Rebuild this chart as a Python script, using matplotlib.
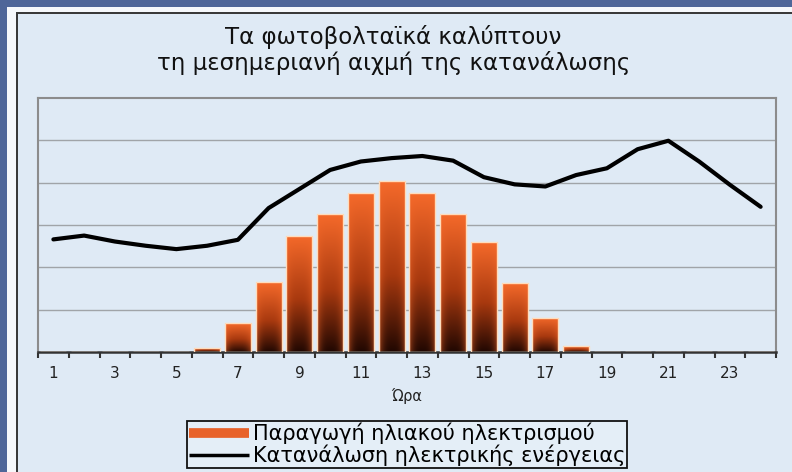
import numpy as np
import matplotlib
matplotlib.use("Agg")
import matplotlib.pyplot as plt
from matplotlib.patches import Rectangle
from matplotlib.lines import Line2D
from matplotlib.colors import to_rgb

plt.rcParams['font.family'] = ['DejaVu Sans']

# ---- data ----
hours = list(range(1, 25))
solar = [0, 0, 0, 0, 0, 0.10, 0.68, 1.65, 2.75, 3.25, 3.75, 4.03,
         3.75, 3.25, 2.59, 1.62, 0.81, 0.13, 0, 0, 0, 0, 0, 0]
consumption = [2.66, 2.75, 2.61, 2.51, 2.43, 2.51, 2.65, 3.40, 3.85, 4.30,
               4.50, 4.58, 4.63, 4.52, 4.13, 3.96, 3.91, 4.18, 4.34, 4.79,
               4.99, 4.50, 3.95, 3.43]
tick_labels = [str(h) for h in hours[::2]]
title = "Τα φωτοβολταϊκά καλύπτουν\nτη μεσημεριανή αιχμή της κατανάλωσης"
xlabel = "Ώρα"
legend_labels = ["Παραγωγή ηλιακού ηλεκτρισμού", "Κατανάλωση ηλεκτρικής ενέργειας"]

W, H = 792, 472
fig = plt.figure(figsize=(W / 100, H / 100), dpi=100)
fig.patch.set_facecolor('#dfeaf5')

def px_rect(x0, y0, x1, y1, color):
    # pixel coords from top-left
    fig.patches.append(Rectangle((x0 / W, 1 - y1 / H), (x1 - x0) / W, (y1 - y0) / H,
                                 transform=fig.transFigure, facecolor=color,
                                 edgecolor='none', zorder=0))

blue = '#4f6699'
px_rect(0, 0, W, 7, blue)
px_rect(0, 0, 7, H, blue)
px_rect(7, 7, W, 12, '#f6f8fb')
px_rect(7, 7, 16, H, '#f6f8fb')
px_rect(16, 12, W, 14, '#3a3a3a')
px_rect(16, 12, 18, H, '#3a3a3a')

ax = fig.add_axes([38 / W, 1 - 352 / H, (776 - 38) / W, (352 - 98) / H])
ax.set_facecolor('none')

x = np.arange(len(hours))
bw = 0.85
bars = ax.bar(x, solar, width=bw, facecolor='none', edgecolor='#ffdcbc',
              linewidth=1.0, zorder=3)

top = np.array(to_rgb('#f4692a'))
mid = np.array(to_rgb('#a8390f'))
bot = np.array(to_rgb('#220802'))
ny, nx = 64, 24
t = np.linspace(0, 1, ny)[:, None]  # 0 bottom .. 1 top
u = np.linspace(0, 1, nx)[None, :]
base = np.where(t[..., None] > 0.45,
                mid + (top - mid) * ((t[..., None] - 0.45) / 0.55),
                bot + (mid - bot) * (t[..., None] / 0.45))
base = np.broadcast_to(base, (ny, nx, 3)).copy()
w = (np.abs(u - 0.5) * 2) ** 3 * 0.5
grad = base * (1 - w[..., None]) + top * w[..., None]
grad = np.clip(grad, 0, 1)

for b, v in zip(bars, solar):
    if v <= 0:
        continue
    x0 = b.get_x()
    im = ax.imshow(grad, extent=[x0, x0 + bw, 0, v], origin='lower',
                   aspect='auto', interpolation='bilinear', zorder=2)
    im.set_clip_path(b)

ax.plot(x, consumption, color='black', linewidth=3, zorder=4,
        solid_joinstyle='round', solid_capstyle='round')

ax.set_xlim(-0.5, len(hours) - 0.5)
ax.set_ylim(0, 6)
ax.set_yticks([1, 2, 3, 4, 5])
ax.yaxis.grid(True, color='#a0a4a8', linewidth=1.0, zorder=1)
ax.set_axisbelow(True)
ax.tick_params(axis='y', left=False, labelleft=False)

ax.set_xticks(x[::2])
ax.set_xticklabels(tick_labels, fontsize=11, color='#222222')
ax.set_xticks(np.arange(-0.5, len(hours), 1.0), minor=True)
ax.tick_params(axis='x', which='major', length=0, pad=10)
ax.tick_params(axis='x', which='minor', length=4, width=1.5, color='#333333',
               direction='out')
ax.set_xlabel(xlabel, fontsize=10.5, labelpad=5, color='#222222')

for s in ['left', 'top', 'right']:
    ax.spines[s].set_color('#8c8c8c')
    ax.spines[s].set_linewidth(1.5)
ax.spines['bottom'].set_color('#333333')
ax.spines['bottom'].set_linewidth(1.8)

fig.text(0.497, 1 - 50 / H, title, ha='center', va='center', fontsize=16.5,
         linespacing=1.1, color='#111111')

handles = [Line2D([0], [0], color='#e8622a', linewidth=7, solid_capstyle='butt'),
           Line2D([0], [0], color='black', linewidth=2.5, solid_capstyle='butt')]
leg = fig.legend(handles, legend_labels, loc='lower center',
                 bbox_to_anchor=(407 / W, 4 / H), bbox_transform=fig.transFigure,
                 fontsize=15, frameon=True, fancybox=False, borderpad=0.1,
                 labelspacing=0.0, handlelength=2.9, handletextpad=0.15,
                 borderaxespad=0)
leg.get_frame().set_edgecolor('#111111')
leg.get_frame().set_linewidth(1.3)
leg.get_frame().set_facecolor('#e4eef7')
leg.get_frame().set_alpha(1)

fig.savefig('out.png', dpi=100, facecolor=fig.get_facecolor())
